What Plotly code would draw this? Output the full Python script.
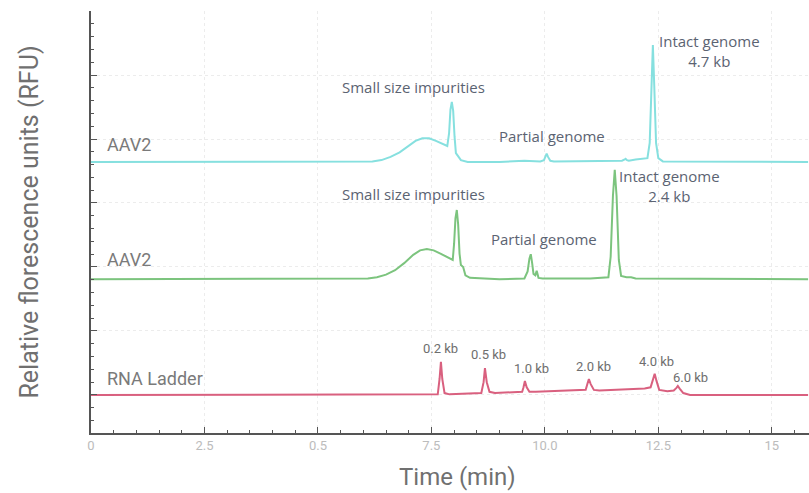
import plotly.graph_objects as go

# Electropherogram traces (time in min, signal relative to each trace's baseline)
aav2_top_time = [0, 6.0, 6.2, 6.4, 6.6, 6.8, 7.0, 7.15, 7.3, 7.45, 7.6, 7.75, 7.85, 7.89,
                 7.92, 7.95, 7.98, 8.01, 8.04, 8.08, 8.15, 8.3,
                 9.0, 9.55, 9.65, 9.9, 9.98, 10.02, 10.04, 10.07, 10.12, 10.2, 11.0, 11.7,
                 11.76, 11.78, 11.81, 11.85, 12.0, 12.26, 12.31, 12.35, 12.38, 12.41, 12.45,
                 12.5, 12.6, 15.8]
aav2_top_rfu = [0, 0, 0.01, 0.03, 0.08, 0.15, 0.25, 0.33, 0.37, 0.37, 0.33, 0.28, 0.25, 0.45,
                0.82, 0.94, 0.8, 0.4, 0.14, 0.1, 0.03, 0,
                0, 0.02, 0.02, 0.01, 0.03, 0.11, 0.13, 0.08, 0.02, 0.01, 0.01, 0.02,
                0.04, 0.05, 0.03, 0.02, 0.04, 0.06, 0.3, 1.2, 1.83, 1.2, 0.3,
                0.06, 0.01, 0]

aav2_mid_time = [0, 5.9, 6.1, 6.3, 6.5, 6.7, 6.9, 7.1, 7.25, 7.4, 7.55, 7.7, 7.85, 7.97,
                 8.0, 8.03, 8.06, 8.09, 8.12, 8.15, 8.2, 8.25, 8.35, 9.0, 9.55, 9.62, 9.66,
                 9.69, 9.72, 9.75, 9.79, 9.82, 9.86, 9.95, 11.0, 11.4, 11.45, 11.5, 11.54,
                 11.58, 11.63, 11.68, 11.8, 11.9, 12.0, 13.0, 15.8]
aav2_mid_rfu = [0, 0, 0.01, 0.03, 0.07, 0.14, 0.25, 0.38, 0.45, 0.47, 0.45, 0.4, 0.34, 0.3,
                0.55, 0.95, 1.08, 0.85, 0.4, 0.22, 0.19, 0.06, 0.02, 0, 0.01, 0.12, 0.32,
                0.39, 0.25, 0.08, 0.06, 0.13, 0.02, 0.01, 0.01, 0.03, 0.35, 1.3, 1.71,
                1.3, 0.3, 0.05, 0.03, 0.03, 0.01, 0.01, 0]

ladder_time = [0, 7.5, 7.64, 7.68, 7.71, 7.74, 7.79, 7.9, 8.5, 8.6, 8.65, 8.68, 8.72, 8.78, 8.9,
               9.4, 9.5, 9.53, 9.56, 9.6, 9.66, 9.8, 10.8, 10.9, 10.94, 10.97, 11.01, 11.08,
               11.2, 12.2, 12.33, 12.38, 12.42, 12.46, 12.52, 12.7, 12.84, 12.9, 12.93, 12.97,
               13.05, 13.2, 15.8]
ladder_rfu = [0, 0, 0.01, 0.25, 0.52, 0.25, 0.03, 0.01, 0.02, 0.03, 0.2, 0.42, 0.2, 0.05, 0.03,
              0.04, 0.05, 0.12, 0.22, 0.12, 0.05, 0.05, 0.07, 0.08, 0.18, 0.25, 0.17, 0.08,
              0.07, 0.1, 0.12, 0.25, 0.33, 0.22, 0.08, 0.06, 0.07, 0.11, 0.14, 0.1,
              0.03, 0, 0]

ladder_sizes = ["0.2 kb", "0.5 kb", "1.0 kb", "2.0 kb", "4.0 kb", "6.0 kb"]
ladder_label_time = [7.71, 8.75, 9.7, 11.08, 12.45, 13.2]
ladder_label_rfu = [0.72, 0.63, 0.42, 0.45, 0.53, 0.28]

x_tick_vals = [0, 2.5, 5, 7.5, 10, 12.5, 15]
x_tick_text = ["0", "2.5", "0.5", "7.5", "10.0", "12.5", "15"]

# vertical stacking offsets of the three traces
offset_top = 3.64
offset_mid = 1.81
offset_ladder = 0.0

ROB = "Roboto, sans-serif"
HUM = "Open Sans, Noto Sans, sans-serif"

fig = go.Figure()
traces = [
    (aav2_top_time, aav2_top_rfu, offset_top, "#86e0df"),
    (aav2_mid_time, aav2_mid_rfu, offset_mid, "#7cc47e"),
    (ladder_time, ladder_rfu, offset_ladder, "#d9607f"),
]
for t, v, off, col in traces:
    fig.add_trace(go.Scatter(x=t, y=[val + off for val in v], mode="lines",
                             line=dict(color=col, width=2), hoverinfo="skip"))

ann = []
for txt, x, y in [("AAV2", 0.3, offset_top + 0.28), ("AAV2", 0.3, offset_mid + 0.30),
                  ("RNA Ladder", 0.3, offset_ladder + 0.25)]:
    ann.append(dict(x=x, y=y, text=txt, xanchor="left", yanchor="middle", showarrow=False,
                    font=dict(family=ROB, size=18, color="#7a7a7a")))

for txt, x, y in [("Small size impurities", 7.11, 4.81), ("Partial genome", 10.15, 4.05),
                  ("Intact genome<br>4.7 kb", 13.62, 5.37),
                  ("Small size impurities", 7.11, 3.14), ("Partial genome", 9.98, 2.44),
                  ("Intact genome<br>2.4 kb", 12.75, 3.27)]:
    ann.append(dict(x=x, y=y, text=txt, xanchor="center", yanchor="middle", showarrow=False,
                    align="center", font=dict(family=HUM, size=15, color="#5b6372")))

for txt, x, y in zip(ladder_sizes, ladder_label_time, ladder_label_rfu):
    ann.append(dict(x=x, y=y, text=txt, xanchor="center", yanchor="middle", showarrow=False,
                    font=dict(family=ROB, size=13, color="#6e6e6e")))

# x-axis title placed as a paper-anchored label
ann.append(dict(x=0.511, y=-0.104, xref="paper", yref="paper", text="Time (min)",
                xanchor="center", yanchor="middle", showarrow=False,
                font=dict(family=ROB, size=24, color="#707070")))

fig.update_layout(
    width=809, height=493,
    margin=dict(l=91, r=0, t=11, b=60),
    paper_bgcolor="white", plot_bgcolor="white",
    showlegend=False,
    annotations=ann,
    xaxis=dict(range=[0, 15.82], tickvals=x_tick_vals, ticktext=x_tick_text,
               ticks="inside", ticklen=6, tickcolor="#555555", tickwidth=1.2,
               showline=True, linecolor="#555555", linewidth=1.5,
               showgrid=True, gridcolor="#ececec", griddash="dot", gridwidth=1,
               zeroline=False,
               tickfont=dict(family=ROB, size=13, color="#bcbcbc"),
               minor=dict(dtick=0.5, tick0=0, ticks="inside", ticklen=3,
                          tickcolor="#555555", showgrid=False)),
    yaxis=dict(range=[-0.594, 6.0], dtick=1, tick0=0, showticklabels=False,
               ticks="inside", ticklen=6, tickcolor="#555555", tickwidth=1.2,
               showline=True, linecolor="#555555", linewidth=1.5,
               showgrid=True, gridcolor="#ececec", griddash="dot", gridwidth=1,
               zeroline=False,
               minor=dict(dtick=0.2, tick0=0, ticks="inside", ticklen=3,
                          tickcolor="#555555", showgrid=False),
               title=dict(text="Relative florescence units (RFU)",
                          font=dict(family=ROB, size=25, color="#707070"), standoff=44)),
)

fig.write_html("out.html")
